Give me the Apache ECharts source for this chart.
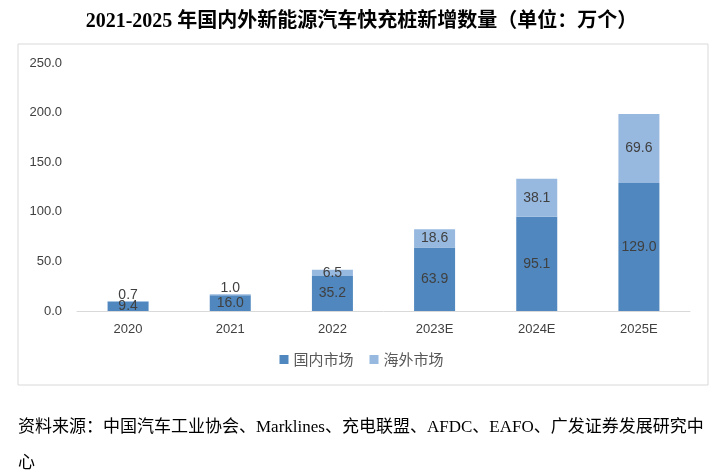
<!DOCTYPE html>
<html><head><meta charset="utf-8">
<script src="https://cdn.jsdelivr.net/npm/echarts@6/dist/echarts.min.js"></script>
<style>html,body{margin:0;padding:0;background:#fff}#c{width:723px;height:476px}</style>
</head><body><div id="c"></div>
<script>
const categories = ['2020','2021','2022','2023E','2024E','2025E'];
const domestic = [9.4, 16.0, 35.2, 63.9, 95.1, 129.0];
const overseas = [0.7, 1.0, 6.5, 18.6, 38.1, 69.6];
const yTicks = [0, 50, 250]; // min, interval, max
const seriesNames = ['国内市场','海外市场'];
const titleText = '2021-2025 年国内外新能源汽车快充桩新增数量（单位：万个）';
const sourceLine1 = '资料来源：中国汽车工业协会、Marklines、充电联盟、AFDC、EAFO、广发证券发展研究中';
const sourceLine2 = '心';

const chart = echarts.init(document.getElementById('c'), null, {renderer:'canvas'});
const labelFont = {fontFamily:'"Liberation Sans","Noto Sans",sans-serif', fontSize:13, color:'#404040'};
chart.setOption({
  animation:false,
  backgroundColor:'#fff',
  title:{text:titleText,left:'center',top:7,
    textStyle:{fontFamily:'"Liberation Serif","Noto Sans CJK SC",serif',fontWeight:'bold',fontSize:20,color:'#000'}},
  graphic:[
    {type:'rect',shape:{x:18,y:44,width:690,height:341},style:{fill:'none',stroke:'#d9d9d9',lineWidth:1},silent:true},
    {type:'text',left:18,top:419,style:{text:sourceLine1,font:'17px "Liberation Serif","Noto Sans CJK SC",serif',fill:'#000'}},
    {type:'text',left:18,top:455,style:{text:sourceLine2,font:'17px "Liberation Serif","Noto Sans CJK SC",serif',fill:'#000'}}
  ],
  legend:{data:seriesNames,bottom:476-372,left:'center',itemWidth:9,itemHeight:9,itemGap:16,icon:'rect',
    textStyle:{fontFamily:'"Noto Sans CJK SC",sans-serif',fontSize:15,color:'#595959'}},
  grid:{left:77,right:33,top:63,bottom:165},
  xAxis:{type:'category',data:categories,
    axisLine:{lineStyle:{color:'#d9d9d9',width:1}},axisTick:{show:false},
    axisLabel:Object.assign({margin:12},labelFont)},
  yAxis:{type:'value',min:yTicks[0],interval:yTicks[1],max:yTicks[2],
    axisLine:{show:false},axisTick:{show:false},splitLine:{show:false},
    axisLabel:Object.assign({margin:15,formatter:v=>v.toFixed(1)},labelFont)},
  series:[
    {name:seriesNames[0],type:'bar',stack:'a',barWidth:41,
      itemStyle:{color:'#4F87BE'},
      data:domestic,
      label:Object.assign({show:true,position:'inside',formatter:p=>p.value.toFixed(1)},labelFont,{fontSize:14})},
    {name:seriesNames[1],type:'bar',stack:'a',barWidth:41,
      itemStyle:{color:'#97B8DF'},
      data:overseas.map(v=>({value:v,label:v<2?{position:'top',distance:-1}:{}})),
      label:Object.assign({show:true,position:'inside',formatter:p=>p.value.toFixed(1)},labelFont,{fontSize:14})}
  ]
});
</script></body></html>
